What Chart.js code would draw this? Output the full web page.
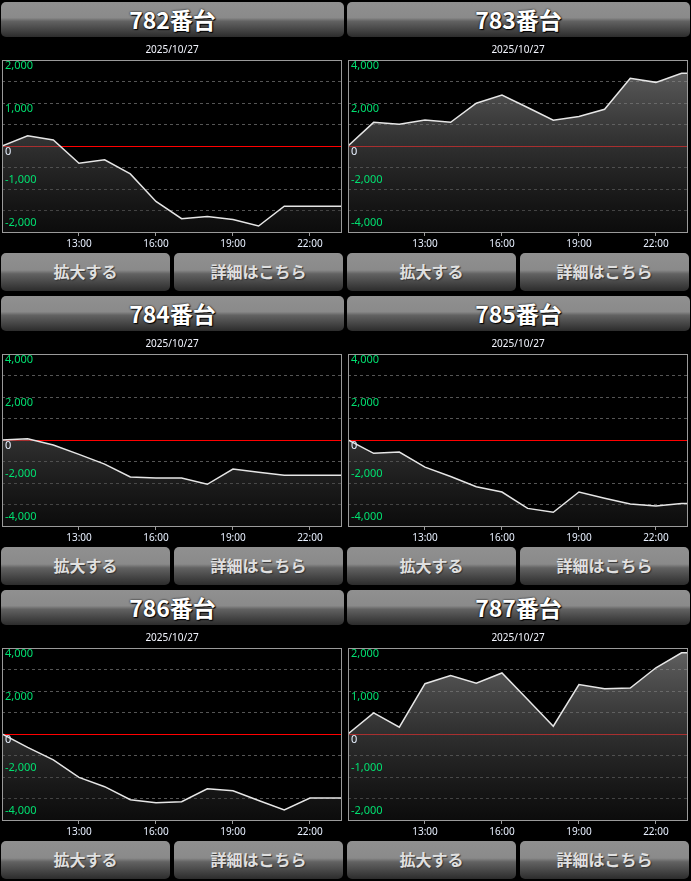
<!DOCTYPE html>
<html lang="ja">
<head>
<meta charset="utf-8">
<script src="https://cdn.jsdelivr.net/npm/chart.js@4.4.1/dist/chart.umd.min.js"></script>
<style>
  html, body { margin:0; padding:0; background:#000; }
  body { width:691px; height:881px; position:relative; overflow:hidden; font-family:"Noto Sans CJK JP", sans-serif; }
  .panel { position:absolute; width:345px; height:294px; }
  .head, .btn {
    position:absolute; border-radius:5px; text-align:center; font-weight:bold;
    background:linear-gradient(#909090 0%, #8a8a8a 45%, #626262 55%, #2c2c2c 100%);
  }
  .head { left:1px; top:2px; width:343px; height:35px; line-height:34px; font-size:23px; color:#fff;
    text-shadow:0 0 2px #000, 1px 1px 1px #000; }
  .btn { top:253px; width:169px; height:38px; line-height:36px; font-size:16px; color:#e0e0e0;
    text-shadow:1px 1px 1px #333; }
  .btn.l { left:1px; }
  .btn.r { left:174px; }
  canvas { position:absolute; left:0; top:38px; }
</style>
</head>
<body>
<div id="wrap"></div>
<script>
// データ
const machines = ['782番台', '783番台', '784番台', '785番台', '786番台', '787番台'];
const dateLabel = '2025/10/27';
const hours = [10, 11, 12, 13, 14, 15, 16, 17, 18, 19, 20, 21, 22, 23, 23.25];
const xTickHours = [13, 16, 19, 22];
const xTickLabels = ['13:00', '16:00', '19:00', '22:00'];
const yLimits = [2000, 4000, 4000, 4000, 4000, 2000];

const s782 = [0, 240, 140, -400, -320, -650, -1290, -1690, -1640, -1710, -1860, -1400, -1400, -1400, -1400];
const s783 = [0, 1100, 1010, 1210, 1100, 1990, 2370, 1790, 1200, 1370, 1710, 3150, 2960, 3380, 3380];
const s784 = [0, 60, -230, -670, -1120, -1720, -1770, -1770, -2060, -1350, -1500, -1640, -1640, -1640, -1640];
const s785 = [0, -620, -560, -1260, -1700, -2170, -2420, -3180, -3360, -2420, -2710, -2980, -3070, -2950, -2950];
const s786 = [0, -620, -1200, -2020, -2450, -3060, -3200, -3150, -2550, -2640, -3090, -3530, -2980, -2980, -2980];
const s787 = [0, 490, 160, 1170, 1360, 1180, 1420, 800, 180, 1150, 1050, 1070, 1540, 1890, 1890];
const series = [s782, s783, s784, s785, s786, s787];

const fmt = v => v.toLocaleString('en-US');

// 枠・0ライン・Y軸ラベル
const framePlugin = {
  id: 'frame',
  beforeDatasetsDraw(chart) {
    const {ctx, chartArea: a, scales: {y}} = chart;
    const z = Math.round(y.getPixelForValue(0)) + 0.5;
    ctx.save();
    ctx.strokeStyle = '#ff0000';
    ctx.lineWidth = 1;
    ctx.beginPath(); ctx.moveTo(a.left, z); ctx.lineTo(a.right, z); ctx.stroke();
    ctx.restore();
  },
  afterDraw(chart) {
    const {ctx, chartArea: a, scales: {y}} = chart;
    const lim = y.max;
    ctx.save();
    ctx.strokeStyle = '#9a9a9a';
    ctx.lineWidth = 1;
    ctx.strokeRect(Math.round(a.left) + 0.5, Math.round(a.top) + 0.5,
      Math.round(a.right - a.left) - 1, Math.round(a.bottom - a.top));
    ctx.font = '11px "Noto Sans"';
    ctx.textBaseline = 'middle';
    ctx.textAlign = 'left';
    [lim, lim / 2, 0, -lim / 2, -lim].forEach(v => {
      const py = y.getPixelForValue(v);
      ctx.fillStyle = v === 0 ? '#e8f0ff' : '#00e070';
      ctx.fillText(fmt(v), a.left + 3, v >= 0 ? py + 6 : py - 9);
    });
    ctx.restore();
  }
};

const wrap = document.getElementById('wrap');

machines.forEach((name, k) => {
  const panel = document.createElement('div');
  panel.className = 'panel';
  panel.style.left = (k % 2 ? 346 : 0) + 'px';
  panel.style.top = (Math.floor(k / 2) * 294) + 'px';
  panel.innerHTML = '<div class="head">' + name + '</div>' +
    '<div class="btn l">拡大する</div><div class="btn r">詳細はこちら</div>';
  const cv = document.createElement('canvas');
  cv.width = 345;
  cv.height = 214;
  panel.appendChild(cv);
  wrap.appendChild(panel);

  const lim = yLimits[k];
  const vals = series[k];

  new Chart(cv, {
    type: 'line',
    data: {
      datasets: [{
        data: hours.map((h, i) => ({x: h, y: vals[i]})),
        borderColor: '#e6e6e6',
        borderWidth: 1.5,
        pointRadius: 0,
        tension: 0,
        fill: 'start',
        backgroundColor: c => {
          const a = c.chart.chartArea;
          if (!a) return 'rgba(100,100,100,0.4)';
          const g = c.chart.ctx.createLinearGradient(0, a.top, 0, a.bottom);
          g.addColorStop(0, 'rgba(150,150,150,0.65)');
          g.addColorStop(1, 'rgba(30,30,30,0.4)');
          return g;
        }
      }]
    },
    options: {
      responsive: false,
      animation: false,
      devicePixelRatio: 1,
      events: [],
      layout: {padding: {left: 2, right: 3, top: 0, bottom: 0}},
      plugins: {
        legend: {display: false},
        tooltip: {enabled: false},
        title: {
          display: true,
          text: dateLabel,
          color: '#f4f6ff',
          font: {family: 'Noto Sans', size: 10, weight: 'normal'},
          padding: {top: 6, bottom: 4}
        }
      },
      scales: {
        x: {
          type: 'linear',
          min: hours[0],
          max: hours[hours.length - 1],
          afterBuildTicks: s => { s.ticks = xTickHours.map(v => ({value: v})); },
          afterFit: s => { s.height = 20; },
          ticks: {
            color: '#e8f0ff',
            font: {family: 'Noto Sans', size: 10},
            padding: 2,
            maxRotation: 0,
            autoSkip: false,
            callback: (v, i) => xTickLabels[i]
          },
          grid: {drawOnChartArea: false, drawTicks: true, tickLength: 4, color: '#9a9a9a'},
          border: {display: false}
        },
        y: {
          min: -lim,
          max: lim,
          afterFit: s => { s.width = 0; },
          ticks: {stepSize: lim / 4, display: false},
          grid: {
            drawTicks: false,
            color: c => (c.tick && (c.tick.value === 0 || Math.abs(c.tick.value) === lim)) ? 'rgba(0,0,0,0)' : '#555555'
          },
          border: {display: false, dash: [3, 3]}
        }
      }
    },
    plugins: [framePlugin]
  });
});
</script>
</body>
</html>
